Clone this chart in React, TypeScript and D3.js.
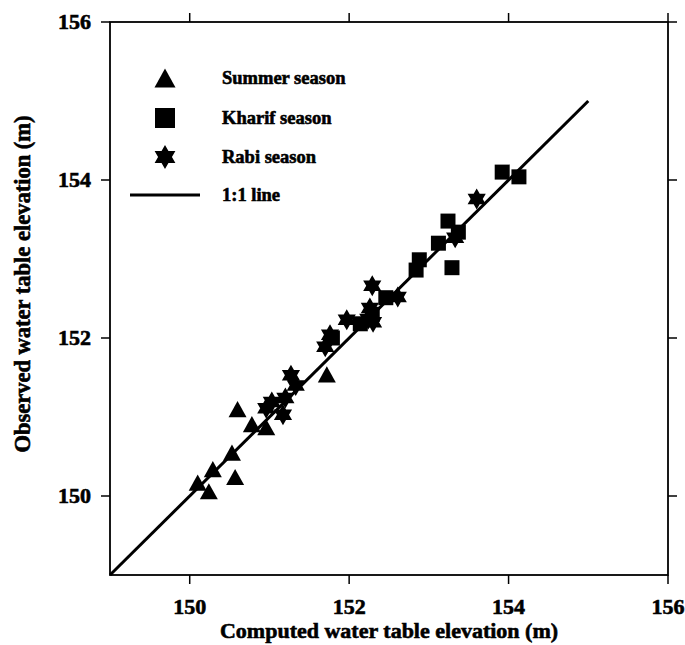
import React from "react";
import * as d3 from "d3";

const summerX = [150.10, 150.24, 150.29, 150.53, 150.57, 150.60, 150.78, 150.96, 151.72];
const summerY = [150.16, 150.05, 150.33, 150.54, 150.23, 151.09, 150.90, 150.86, 151.53];

const kharifX = [151.79, 152.14, 152.29, 152.46, 152.84, 152.88, 153.12, 153.24, 153.29, 153.37, 153.92, 154.13];
const kharifY = [152.00, 152.18, 152.30, 152.51, 152.86, 152.99, 153.20, 153.48, 152.89, 153.34, 154.10, 154.04];

const rabiX = [150.96, 151.03, 151.17, 151.20, 151.27, 151.33, 151.70, 151.76, 151.97, 152.24, 152.29, 152.26, 152.30, 152.61, 153.33, 153.60];
const rabiY = [151.11, 151.19, 151.03, 151.24, 151.53, 151.40, 151.89, 152.04, 152.23, 152.24, 152.66, 152.38, 152.20, 152.52, 153.27, 153.76];

const ticks = [150, 152, 154, 156];
const lineEnds = [149, 155];
const legendLabels = ["Summer season", "Kharif season", "Rabi season", "1:1 line"];

const W = 685, H = 645;
const L = 110, R = 668, T = 22, B = 575;

function hexagram(r: number) {
  const pts: string[] = [];
  const ri = r / Math.sqrt(3);
  for (let i = 0; i < 12; i++) {
    const a = -Math.PI / 2 + (i * Math.PI) / 6;
    const rr = i % 2 === 0 ? r : ri;
    pts.push(`${(rr * Math.cos(a)).toFixed(2)},${(rr * Math.sin(a)).toFixed(2)}`);
  }
  return "M" + pts.join("L") + "Z";
}

function triangle(s: number) {
  const h = s * 0.9;
  return `M0,${-h * 0.55}L${s / 2},${h * 0.45}L${-s / 2},${h * 0.45}Z`;
}

function square(s: number) {
  return `M${-s / 2},${-s / 2}H${s / 2}V${s / 2}H${-s / 2}Z`;
}

export default function App() {
  const x = d3.scaleLinear().domain([149, 156]).range([L, R]);
  const y = d3.scaleLinear().domain([149, 156]).range([B, T]);
  const font = "'Liberation Serif', 'Times New Roman', serif";
  const triPath = triangle(18);
  const sqPath = square(15);
  const starPath = hexagram(10.5);
  const heavy = { fontWeight: 700 as const, stroke: "#000", strokeWidth: 0.6 };

  return (
    <svg width={W} height={H} style={{ position: "absolute", left: 0, top: 0, background: "#fff" }} fontFamily={font}>
      <rect x={0} y={0} width={W} height={H} fill="#fff" />
      {/* frame */}
      <rect x={L} y={T} width={R - L} height={B - T} fill="none" stroke="#000" strokeWidth={1.8} />
      {/* ticks */}
      {ticks.map((t) => (
        <g key={"t" + t}>
          <line x1={x(t)} x2={x(t)} y1={B} y2={B + 9} stroke="#000" strokeWidth={1.5} />
          <line x1={x(t)} x2={x(t)} y1={T} y2={T - 9} stroke="#000" strokeWidth={1.5} />
          <line x1={L} x2={L - 9} y1={y(t)} y2={y(t)} stroke="#000" strokeWidth={1.5} />
          <line x1={R} x2={R + 9} y1={y(t)} y2={y(t)} stroke="#000" strokeWidth={1.5} />
          <text x={x(t)} y={614} textAnchor="middle" fontSize={22} style={heavy}>{String(t)}</text>
          <text x={L - 19} y={y(t) + 7} textAnchor="end" fontSize={22} style={heavy}>{String(t)}</text>
        </g>
      ))}
      {/* axis titles */}
      <text x={389} y={638} textAnchor="middle" fontSize={22} style={heavy}>Computed water table elevation (m)</text>
      <text transform={`translate(30,284) rotate(-90)`} textAnchor="middle" fontSize={22.5} style={heavy}>Observed water table elevation (m)</text>
      {/* 1:1 line */}
      <line x1={x(lineEnds[0])} y1={y(lineEnds[0])} x2={x(lineEnds[1])} y2={y(lineEnds[1])} stroke="#000" strokeWidth={3} />
      {/* points */}
      {summerX.map((v, i) => (
        <path key={"s" + i} d={triPath} transform={`translate(${x(v)},${y(summerY[i])})`} fill="#000" />
      ))}
      {kharifX.map((v, i) => (
        <path key={"k" + i} d={sqPath} transform={`translate(${x(v)},${y(kharifY[i])})`} fill="#000" />
      ))}
      {rabiX.map((v, i) => (
        <path key={"r" + i} d={starPath} transform={`translate(${x(v)},${y(rabiY[i])})`} fill="#000" />
      ))}
      {/* legend */}
      <path d={triangle(21)} transform="translate(165,79)" fill="#000" />
      <path d={square(20)} transform="translate(165,118)" fill="#000" />
      <path d={hexagram(12)} transform="translate(165,157)" fill="#000" />
      <line x1={130} x2={200} y1={195} y2={195} stroke="#000" strokeWidth={3} />
      {legendLabels.map((lab, i) => (
        <text key={lab} x={222} y={[84, 124, 163, 201][i]} fontSize={18.5} style={heavy}>{lab}</text>
      ))}
    </svg>
  );
}
